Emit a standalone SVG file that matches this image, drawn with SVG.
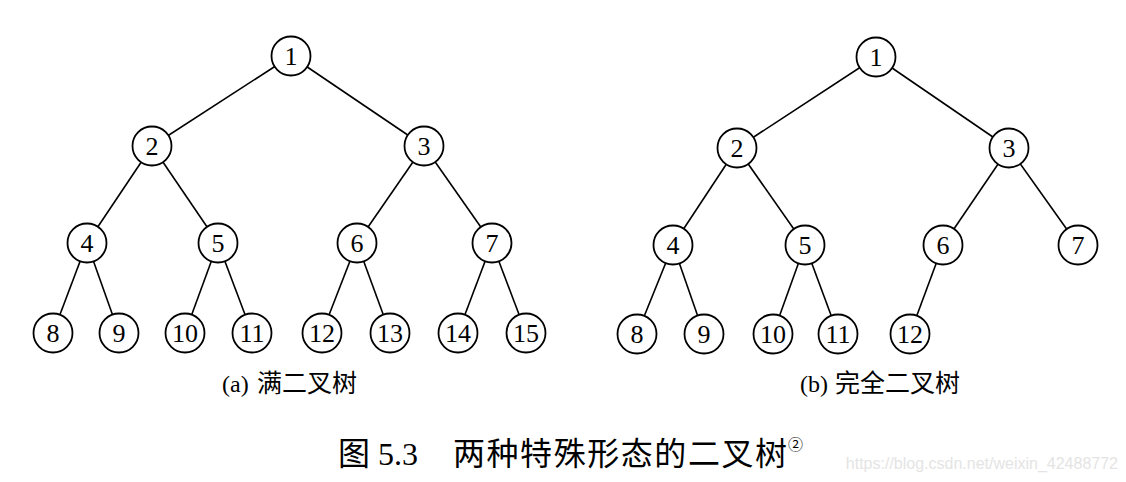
<svg xmlns="http://www.w3.org/2000/svg" width="1126" height="482" viewBox="0 0 1126 482">
<style>
.e{stroke:#000;stroke-width:1.6;fill:none}
.n circle{fill:#fff;stroke:#000;stroke-width:1.8}
.n text{font-family:"Liberation Serif","Noto Sans CJK SC",serif;font-size:26px;text-anchor:middle;fill:#000}
.cap{font-family:"Liberation Serif","Noto Sans CJK SC",serif;fill:#000}
</style>
<rect width="1126" height="482" fill="#fff"/>
<g id="connectors" class="e">
<line x1="291" y1="56" x2="152" y2="146"/><line x1="291" y1="56" x2="424" y2="146"/>
<line x1="152" y1="146" x2="87" y2="243"/><line x1="152" y1="146" x2="218" y2="243"/>
<line x1="424" y1="146" x2="357" y2="243"/><line x1="424" y1="146" x2="492" y2="243"/>
<line x1="87" y1="243" x2="53" y2="333"/><line x1="87" y1="243" x2="119" y2="333"/>
<line x1="218" y1="243" x2="185" y2="333"/><line x1="218" y1="243" x2="252" y2="333"/>
<line x1="357" y1="243" x2="322" y2="333"/><line x1="357" y1="243" x2="390" y2="333"/>
<line x1="492" y1="243" x2="458" y2="333"/><line x1="492" y1="243" x2="526" y2="333"/>
<line x1="876" y1="57" x2="737" y2="148"/><line x1="876" y1="57" x2="1009" y2="148"/>
<line x1="737" y1="148" x2="673" y2="245"/><line x1="737" y1="148" x2="805" y2="245"/>
<line x1="1009" y1="148" x2="943" y2="245"/><line x1="1009" y1="148" x2="1078" y2="245"/>
<line x1="673" y1="245" x2="637" y2="334"/><line x1="673" y1="245" x2="704" y2="334"/>
<line x1="805" y1="245" x2="773" y2="334"/><line x1="805" y1="245" x2="838" y2="334"/>
<line x1="943" y1="245" x2="910" y2="334"/>
</g>
<g id="a1" class="n"><circle cx="291" cy="56" r="19.5"/><text x="291" y="65">1</text></g>
<g id="a2" class="n"><circle cx="152" cy="146" r="19.5"/><text x="152" y="155">2</text></g>
<g id="a3" class="n"><circle cx="424" cy="146" r="19.5"/><text x="424" y="155">3</text></g>
<g id="a4" class="n"><circle cx="87" cy="243" r="19.5"/><text x="87" y="252">4</text></g>
<g id="a5" class="n"><circle cx="218" cy="243" r="19.5"/><text x="218" y="252">5</text></g>
<g id="a6" class="n"><circle cx="357" cy="243" r="19.5"/><text x="357" y="252">6</text></g>
<g id="a7" class="n"><circle cx="492" cy="243" r="19.5"/><text x="492" y="252">7</text></g>
<g id="a8" class="n"><circle cx="53" cy="333" r="19.5"/><text x="53" y="342">8</text></g>
<g id="a9" class="n"><circle cx="119" cy="333" r="19.5"/><text x="119" y="342">9</text></g>
<g id="a10" class="n"><circle cx="185" cy="333" r="19.5"/><text x="185" y="342">10</text></g>
<g id="a11" class="n"><circle cx="252" cy="333" r="19.5"/><text x="252" y="342">11</text></g>
<g id="a12" class="n"><circle cx="322" cy="333" r="19.5"/><text x="322" y="342">12</text></g>
<g id="a13" class="n"><circle cx="390" cy="333" r="19.5"/><text x="390" y="342">13</text></g>
<g id="a14" class="n"><circle cx="458" cy="333" r="19.5"/><text x="458" y="342">14</text></g>
<g id="a15" class="n"><circle cx="526" cy="333" r="19.5"/><text x="526" y="342">15</text></g>
<g id="b1" class="n"><circle cx="876" cy="57" r="19.5"/><text x="876" y="66">1</text></g>
<g id="b2" class="n"><circle cx="737" cy="148" r="19.5"/><text x="737" y="157">2</text></g>
<g id="b3" class="n"><circle cx="1009" cy="148" r="19.5"/><text x="1009" y="157">3</text></g>
<g id="b4" class="n"><circle cx="673" cy="245" r="19.5"/><text x="673" y="254">4</text></g>
<g id="b5" class="n"><circle cx="805" cy="245" r="19.5"/><text x="805" y="254">5</text></g>
<g id="b6" class="n"><circle cx="943" cy="245" r="19.5"/><text x="943" y="254">6</text></g>
<g id="b7" class="n"><circle cx="1078" cy="245" r="19.5"/><text x="1078" y="254">7</text></g>
<g id="b8" class="n"><circle cx="637" cy="334" r="19.5"/><text x="637" y="343">8</text></g>
<g id="b9" class="n"><circle cx="704" cy="334" r="19.5"/><text x="704" y="343">9</text></g>
<g id="b10" class="n"><circle cx="773" cy="334" r="19.5"/><text x="773" y="343">10</text></g>
<g id="b11" class="n"><circle cx="838" cy="334" r="19.5"/><text x="838" y="343">11</text></g>
<g id="b12" class="n"><circle cx="910" cy="334" r="19.5"/><text x="910" y="343">12</text></g>
<text class="cap" x="222" y="392" font-size="24">(a)<tspan x="257" font-size="25">满二叉树</tspan></text>
<text class="cap" x="800" y="392" font-size="24">(b)<tspan x="835" font-size="25">完全二叉树</tspan></text>
<text class="cap" y="465" font-size="32"><tspan x="338">图</tspan><tspan x="378">5.3</tspan><tspan x="453" textLength="334" lengthAdjust="spacing">两种特殊形态的二叉树</tspan><tspan x="788" y="450" font-size="15">②</tspan></text>
<text x="1118" y="469" font-family="'Liberation Sans',sans-serif" font-size="16" fill="#e4e4e4" text-anchor="end">https://blog.csdn.net/weixin_42488772</text>
</svg>
